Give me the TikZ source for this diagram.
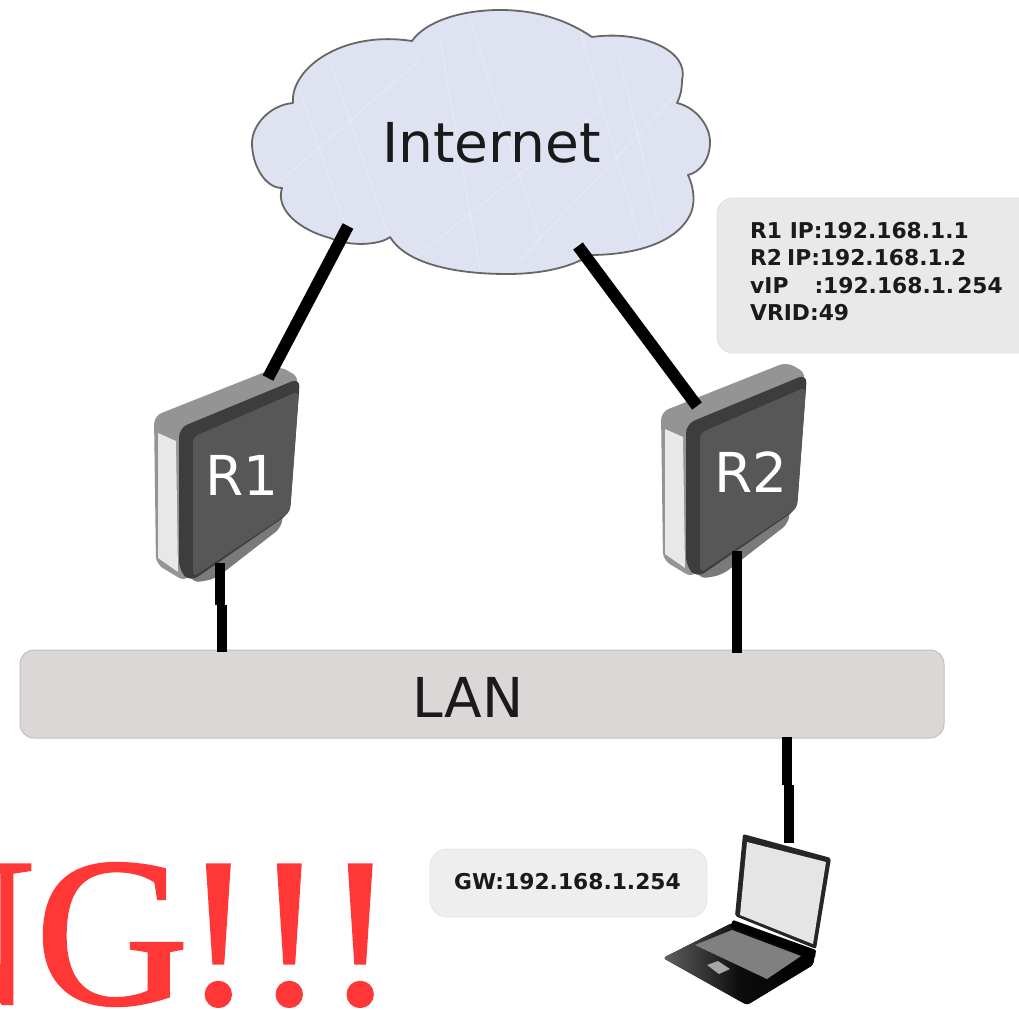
\documentclass[tikz,border=0pt]{standalone}
\usepackage{fontspec}
\setmainfont{DejaVu Sans}
\newfontfamily\infofont{DejaVu Sans Bold}
\newfontfamily\redfont[FakeBold=1]{Liberation Serif}
\definecolor{cloudfill}{HTML}{DFE3F1}
\definecolor{cloudline}{HTML}{666666}
\definecolor{lanfill}{HTML}{DCD7D7}
\definecolor{lanline}{HTML}{C4BFBF}
\definecolor{infofill}{HTML}{E9E9E9}
\definecolor{gwfill}{HTML}{EEEEEE}
\definecolor{warnred}{HTML}{FF3737}
\definecolor{inktext}{HTML}{1A1A1A}
\tikzset{
  wire/.style={line width=10pt,black},
  slantwire/.style={line width=12pt,black},
  biglabel/.style={inner sep=0pt,text=inktext,font=\fontsize{55}{60}\selectfont},
  infolabel/.style={inner sep=0pt,anchor=base west,font=\infofont\fontsize{21.8}{27}\selectfont,text=inktext},
  scratch/.style={white,opacity=0.28,line width=1pt},
  routerpic/.pic={
    % shadow underneath
    \fill[rounded corners=8pt,black!52] (262,520) -- (283,510) -- (282,527) -- (215,579) -- (192,583) -- (185,560) -- cycle;
    % silhouette with the top face
    \fill[rounded corners=8pt,black!42] (154,416) -- (280,366) -- (300,378) -- (186,582) -- (156,564) -- cycle;
    % left side
    \fill[black!9] (158,433) -- (176,441) -- (178,572) -- (158,558) -- cycle;
    % front face
    \fill[rounded corners=9pt,black!76] (179,428) -- (300,378) -- (290,513) -- (190,582) -- (179,570) -- cycle;
    \fill[rounded corners=5pt,black!66] (193,437) -- (299,391) -- (290,512) -- (193,577) -- cycle;
  }
}
\newcommand{\cloudshape}{%
  (412,41) .. controls (425,22) and (460,10) .. (500,10)
  .. controls (540,10) and (570,22) .. (592,37)
  .. controls (640,30) and (690,50) .. (682,80)
  .. controls (682,90) and (680,97) .. (677,103)
  .. controls (695,107) and (710,125) .. (710,142)
  .. controls (710,160) and (700,172) .. (688,175)
  .. controls (695,190) and (695,205) .. (690,215)
  .. controls (675,245) and (630,255) .. (590,255)
  .. controls (570,268) and (540,274) .. (507,274)
  .. controls (450,274) and (405,262) .. (390,237)
  .. controls (380,245) and (350,247) .. (330,238)
  .. controls (300,230) and (275,210) .. (282,188)
  .. controls (265,188) and (252,165) .. (252,143)
  .. controls (252,125) and (270,105) .. (293,103)
  .. controls (290,70) and (340,30) .. (412,41) -- cycle}
\begin{document}
\begin{tikzpicture}[x=1pt,y=-1pt]
\useasboundingbox (0,0) rectangle (1019,1009);
\clip (0,0) rectangle (1019,1009);

% Cloud
\fill[cloudfill] \cloudshape;
\begin{scope}
  \clip \cloudshape;
  \draw[scratch] (330,60) -- (400,270);
  \draw[scratch] (440,40) -- (480,270);
  \draw[scratch] (580,30) -- (640,240);
  \draw[scratch] (270,190) -- (420,60);
  \draw[scratch] (400,270) -- (600,110);
  \draw[scratch] (520,260) -- (680,90);
  \draw[scratch] (300,90) -- (350,240);
  \draw[scratch] (470,20) -- (540,240);
  \draw[scratch] (620,60) -- (660,230);
\end{scope}
\draw[draw=cloudline,line width=1.8pt,line join=round] \cloudshape;
\node[biglabel] (internet) at (491.5,143) {Internet};
\coordinate (cloudL) at (348,226);
\coordinate (cloudR) at (578,246);

% LAN
\node[draw=lanline,fill=lanfill,line width=1pt,rounded corners=14pt,minimum width=924pt,minimum height=88pt,inner sep=0pt] (lanbar) at (482,694) {};
\node[biglabel] (lanlabel) at (468,697) {LAN};

% Routers
\pic (routerA) at (0,0) {routerpic};
\pic (routerB) at (507,-4) {routerpic};
\node[biglabel,text=white] (r1) at (242,475) {R1};
\node[biglabel,text=white] (r2) at (751,472) {R2};
\coordinate (r1top) at (268,378);
\coordinate (r2top) at (697,406);
\coordinate (r1bot) at (220,563);
\coordinate (r1kink) at (220,605);
\coordinate (r1kinkb) at (222,605);
\coordinate (lanA) at (222,652);
\coordinate (r2bot) at (737,551);
\coordinate (lanB) at (737,653);

% Laptop
\fill[left color=black!62,right color=black,middle color=black!95,rounded corners=3pt] (663,958) -- (732,923) -- (815,955) -- (813,965) -- (747,1005) -- cycle;
\fill[black!50] (695,945) -- (732,930) -- (801,956) -- (767,979) -- cycle;
\fill[black!35] (707,965) -- (718,961) -- (730,969) -- (719,974) -- cycle;
\fill[black,rounded corners=1pt] (733,920) -- (816,950) -- (815,958) -- (730,927) -- cycle;
\fill[black!85,rounded corners=2pt] (743,834) -- (831,858) -- (816,949) -- (735,916) -- cycle;
\fill[black!10] (747,842) -- (826,862) -- (813,944) -- (740,915) -- cycle;
\coordinate (lanC) at (787,737);
\coordinate (lapkink) at (787,785);
\coordinate (lapkinkb) at (789,785);
\coordinate (lapTop) at (789,843);

% Wires
\draw[slantwire] (cloudL) -- (r1top);
\draw[slantwire] (cloudR) -- (r2top);
\draw[wire] (r1bot) -- (r1kink);
\draw[wire] (r1kinkb) -- (lanA);
\draw[wire] (r2bot) -- (lanB);
\draw[wire] (lanC) -- (lapkink);
\draw[wire] (lapkinkb) -- (lapTop);

% Info box
\draw[fill=infofill,draw=black!12,line width=0.8pt,rounded corners=16pt] (717,198) rectangle (1045,353);
\node[infolabel] (info1) at (750,238) {R1 IP:192.168.1.1};
\node[infolabel] (info2) at (750,265) {R2\hspace{5pt}IP:192.168.1.2};
\node[infolabel] (info3) at (750,293) {vIP\hspace{26pt}:192.168.1.\hspace{3pt}254};
\node[infolabel] (info4) at (750,320) {VRID:49};

% GW box
\node[draw=black!10,fill=gwfill,line width=0.8pt,rounded corners=17pt,minimum width=277pt,minimum height=68pt,inner sep=0pt] (gwbox) at (568.5,883) {};
\node[infolabel] (gw) at (454,889) {GW:192.168.1.254};

% Warning
\node[inner sep=0pt,anchor=base east,text=warnred,font=\redfont\fontsize{213}{213}\selectfont] (warn) at (396,1004) {NG\kern-6pt!!!};
\end{tikzpicture}
\end{document}
